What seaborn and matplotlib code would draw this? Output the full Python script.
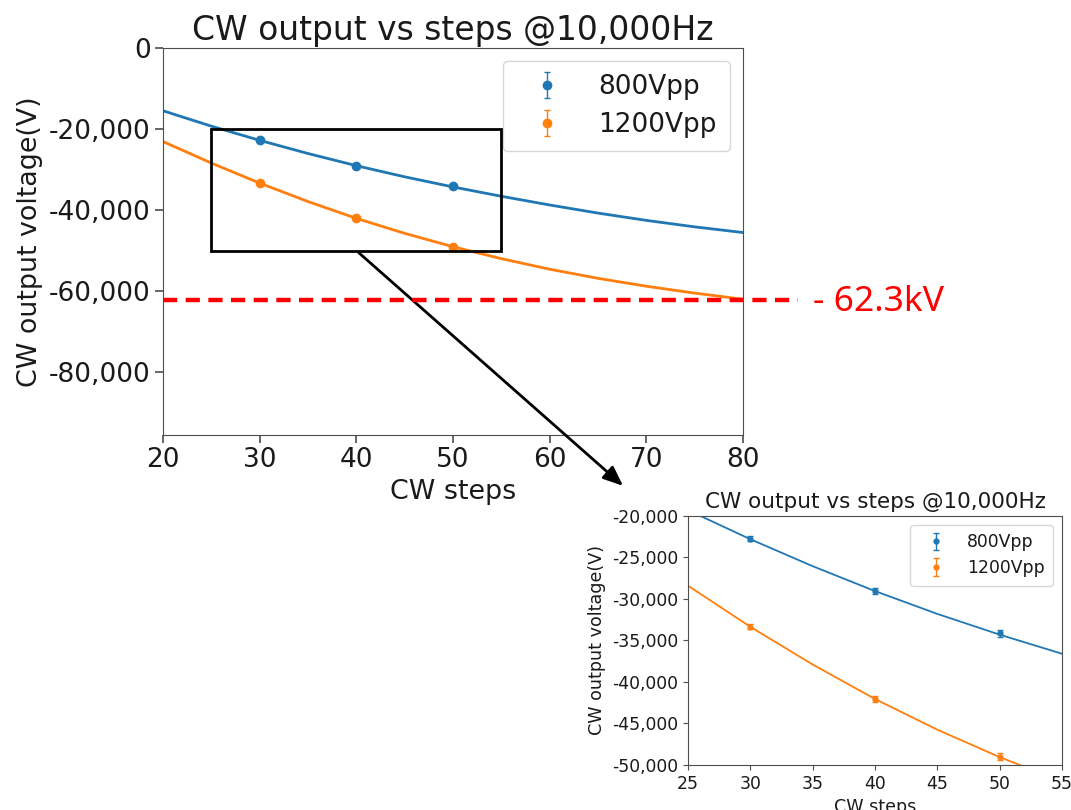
import numpy as np
import pandas as pd
import matplotlib
matplotlib.use("Agg")
import matplotlib.pyplot as plt
import matplotlib.ticker as mticker
from matplotlib.patches import Rectangle
import seaborn as sns

# measured points (CW steps vs output voltage)
steps = [30, 40, 50]
v800 = [-22750, -29050, -34150]
v800_err = [300, 350, 400]
v1200 = [-33350, -42050, -49000]
v1200_err = [300, 400, 450]

# fitted curves
fit_steps = [20, 25, 30, 35, 40, 45, 50, 55, 60, 65, 70, 75, 80]
fit800 = [-15500, -19300, -22800, -26050, -29050, -31800, -34300,
          -36600, -38750, -40750, -42550, -44150, -45550]
fit1200 = [-23100, -28400, -33350, -37900, -42050, -45750, -49050,
           -52000, -54600, -56850, -58800, -60500, -62000]

limit_v = -62300
labels = ["800Vpp", "1200Vpp"]
colors = ["#1f77b4", "#ff7f0e"]

sns.set_style("ticks")
plt.rcParams["font.family"] = ["DejaVu Sans"]
plt.rcParams["axes.edgecolor"] = "0.3"
plt.rcParams["xtick.color"] = "0.3"
plt.rcParams["ytick.color"] = "0.3"
plt.rcParams["xtick.labelcolor"] = "0.1"
plt.rcParams["ytick.labelcolor"] = "0.1"
plt.rcParams["text.color"] = "0.1"
plt.rcParams["axes.labelcolor"] = "0.1"

fits = pd.DataFrame({
    "step": fit_steps * 2,
    "volt": fit800 + fit1200,
    "series": [labels[0]] * len(fit_steps) + [labels[1]] * len(fit_steps),
})

fmt = mticker.FuncFormatter(lambda v, p: f"{int(v):,}")


def draw_panel(ax, fs, ms, cap, lw, hl):
    sns.lineplot(data=fits, x="step", y="volt", hue="series", palette=colors,
                 legend=False, ax=ax, linewidth=lw)
    ax.errorbar(steps, v800, yerr=v800_err, fmt="o", color=colors[0],
                ms=ms, capsize=cap, elinewidth=1, label=labels[0])
    ax.errorbar(steps, v1200, yerr=v1200_err, fmt="o", color=colors[1],
                ms=ms, capsize=cap, elinewidth=1, label=labels[1])
    ax.yaxis.set_major_formatter(fmt)
    ax.set_title("CW output vs steps @10,000Hz", fontsize=fs * 1.25)
    ax.set_xlabel("CW steps", fontsize=fs * 1.02)
    ax.set_ylabel("CW output voltage(V)", fontsize=fs * 1.02)
    ax.tick_params(labelsize=fs)
    ax.legend(fontsize=fs, loc="upper right", handlelength=hl,
              borderpad=0.5, labelspacing=0.45)


fig = plt.figure(figsize=(10.71, 8.1), dpi=100)

ax = fig.add_axes([0.1522, 0.463, 0.5416, 0.4778])
draw_panel(ax, 19, 6, 2.5, 2.0, 2.3)
ax.set_xlim(20, 80)
ax.set_ylim(-95500, 0)
ax.set_xticks(range(20, 81, 10))
ax.set_yticks([0, -20000, -40000, -60000, -80000])
ax.tick_params(length=5.5, width=1.2)

# red limit line and label
ax.plot([20, 85.7], [limit_v, limit_v], color="red", lw=3.2,
        ls=(0, (3.2, 1.9)), clip_on=False, zorder=5)
ax.text(87.2, -64900, "- 62.3kV", color="red", fontsize=25.5,
        family=["Noto Sans", "DejaVu Sans"], va="baseline", ha="left")

# zoom box and arrow
ax.add_patch(Rectangle((25, -50000), 30, 30000, fill=False,
                       edgecolor="black", lw=2, zorder=6))
ax.annotate("", xy=(67.8, -108500), xytext=(40, -50000),
            arrowprops=dict(arrowstyle="-|>,head_length=1.2,head_width=0.5",
                            color="black", lw=2),
            annotation_clip=False)

axi = fig.add_axes([0.6424, 0.0556, 0.3492, 0.3074])
draw_panel(axi, 12.4, 3.5, 2, 1.3, 2.0)
axi.set_xlim(25, 55)
axi.set_ylim(-50000, -20000)
axi.set_xticks(range(25, 56, 5))
axi.set_yticks(range(-50000, -19999, 5000))

fig.savefig("out.png", dpi=100)
